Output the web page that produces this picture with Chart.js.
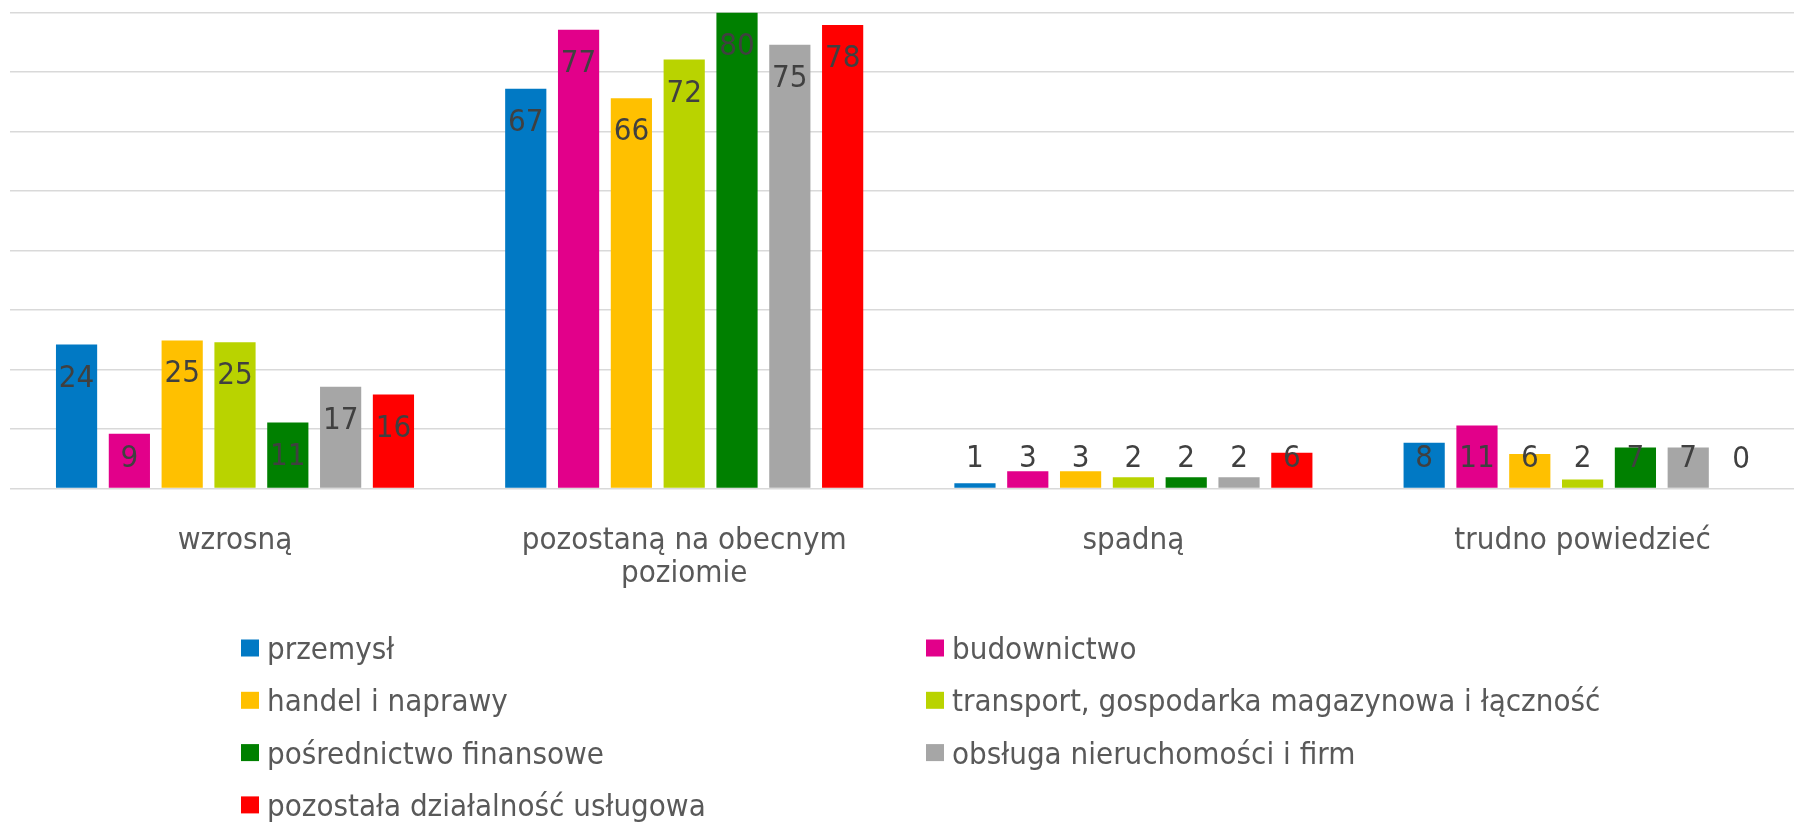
<!DOCTYPE html>
<html>
<head>
<meta charset="utf-8">
<script src="https://cdn.jsdelivr.net/npm/chart.js@4/dist/chart.umd.min.js"></script>
<style>
  html, body { margin: 0; padding: 0; background: #ffffff; overflow: hidden; }
  #wrap { position: relative; width: 1820px; height: 825px; }
</style>
</head>
<body>
<div id="wrap"><canvas id="c" width="1820" height="825"></canvas></div>
<script>
// ---- data ----
const categories = ["wzrosną", ["pozostaną na obecnym", "poziomie"], "spadną", "trudno powiedzieć"];
const seriesNames = [
  "przemysł",
  "budownictwo",
  "handel i naprawy",
  "transport, gospodarka magazynowa i łączność",
  "pośrednictwo finansowe",
  "obsługa nieruchomości i firm",
  "pozostała działalność usługowa"
];
const przemysl      = [24.2, 67.2, 0.9, 7.7];
const budownictwo   = [9.2, 77.1, 2.9, 10.6];
const handel        = [24.9, 65.6, 2.9, 5.8];
const transport     = [24.6, 72.1, 1.9, 1.5];
const posrednictwo  = [11.1, 80.0, 1.9, 6.9];
const obsluga       = [17.1, 74.6, 1.9, 6.9];
const pozostala     = [15.8, 77.9, 6.0, 0];
const yTicks = [0, 10, 20, 30, 40, 50, 60, 70, 80];

// ---- styles ----
const colors = ["#0179c4", "#e2008a", "#ffc000", "#b9d300", "#008000", "#a6a6a6", "#ff0000"];
const seriesValues = [przemysl, budownictwo, handel, transport, posrednictwo, obsluga, pozostala];
const FONT = "'DejaVu Sans Condensed', 'DejaVu Sans', sans-serif";

const datasets = seriesNames.map((name, i) => ({
  label: name,
  data: seriesValues[i],
  backgroundColor: colors[i],
  borderWidth: 0,
  categoryPercentage: 0.823,
  barPercentage: 0.78
}));

const valueLabels = {
  id: 'valueLabels',
  afterDatasetsDraw(chart) {
    const ctx = chart.ctx;
    ctx.save();
    ctx.font = "31px " + FONT;
    ctx.fillStyle = "#404040";
    ctx.textAlign = "center";
    ctx.textBaseline = "middle";
    chart.data.datasets.forEach((ds, di) => {
      const meta = chart.getDatasetMeta(di);
      meta.data.forEach((el, i) => {
        const v = ds.data[i];
        const cy = Math.min(el.y + 34, el.base - 28.5);
        ctx.fillText(String(Math.round(v)), el.x, cy);
      });
    });
    ctx.restore();
  }
};

const gridLegend = {
  id: 'gridLegend',
  afterDraw(chart) {
    const ctx = chart.ctx;
    ctx.save();
    ctx.font = "31px " + FONT;
    ctx.textBaseline = "alphabetic";
    ctx.textAlign = "left";
    const colX = [241, 926];
    chart.data.datasets.forEach((ds, i) => {
      const col = i % 2, row = Math.floor(i / 2);
      const bx = colX[col], by = 639.5 + row * 52.3;
      ctx.fillStyle = ds.backgroundColor;
      ctx.fillRect(bx, by, 18, 17);
      ctx.fillStyle = "#595959";
      ctx.fillText(ds.label, bx + 26, by + 19.5);
    });
    ctx.restore();
  }
};

new Chart(document.getElementById('c'), {
  type: 'bar',
  data: { labels: categories, datasets },
  options: {
    responsive: false,
    animation: false,
    layout: { padding: { left: 10.4, right: 12.8, top: 12.6, bottom: 0 } },
    plugins: { legend: { display: false }, tooltip: { enabled: false } },
    scales: {
      x: {
        grid: { display: false, drawTicks: false },
        border: { display: false },
        ticks: {
          color: "#595959",
          font: { family: FONT, size: 31, lineHeight: 1.08 },
          padding: 35.5,
          maxRotation: 0,
          autoSkip: false
        },
        afterFit(s) { s.height = 336.5; }
      },
      y: {
        min: 0, max: 80,
        afterBuildTicks(s) { s.ticks = yTicks.map(v => ({ value: v })); },
        ticks: { display: false },
        grid: { color: "#d9d9d9", lineWidth: 1.5, drawTicks: false },
        border: { display: false },
        afterFit(s) { s.width = 0; }
      }
    }
  },
  plugins: [valueLabels, gridLegend]
});
</script>
</body>
</html>
